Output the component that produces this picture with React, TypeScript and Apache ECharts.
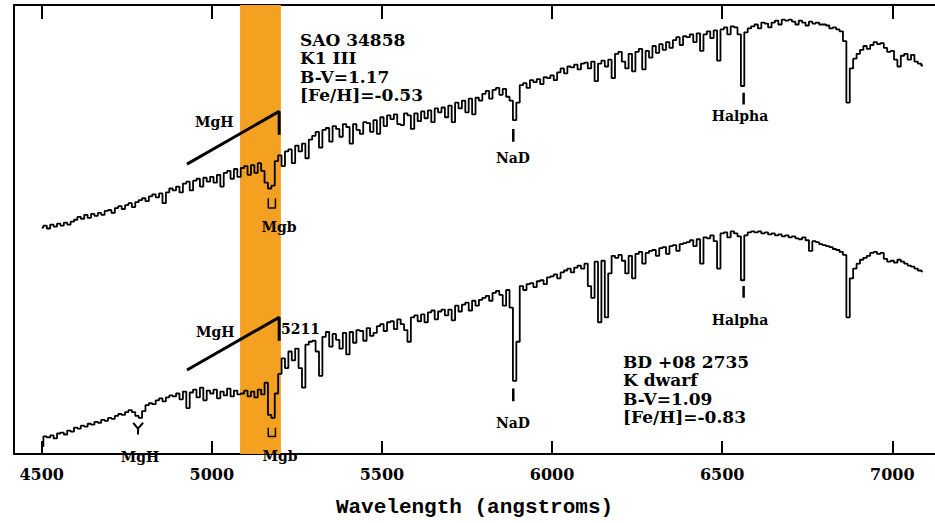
import React, { useEffect, useRef } from 'react';
import * as echarts from 'echarts';

// Wavelength grid of both spectra (angstroms)
const WL_START = 4500;
const WL_STEP = 10;

// SAO 34858 (K1 III giant) – relative flux
const giantFlux = [
  232, 234, 231, 235, 233, 236, 234, 237, 235, 238,
  240, 243, 241, 245, 242, 246, 244, 247, 245, 249,
  250, 247, 252, 254, 251, 255, 257, 253, 258, 260,
  262, 259, 264, 266, 263, 267, 257, 268, 272, 270,
  274, 268, 277, 279, 270, 280, 282, 274, 283, 279,
  284, 278, 286, 274, 288, 290, 282, 292, 284, 293,
  295, 286, 296, 288, 298, 290, 278, 272, 275, 300,
  306, 295, 310, 312, 298, 316, 310, 318, 303, 322,
  326, 330, 314, 332, 334, 320, 336, 333, 325, 338,
  335, 318, 338, 332, 328, 340, 339, 330, 342, 328,
  345, 336, 347, 343, 348, 338, 337, 349, 347, 333,
  349, 341, 351, 344, 352, 340, 354, 350, 355, 345,
  357, 340, 360, 354, 362, 350, 364, 348, 365, 362,
  369, 372, 364, 373, 375, 368, 374, 366, 362, 342,
  360, 378, 380, 375, 383, 381, 384, 379, 386, 385,
  388, 383, 391, 395, 390, 397, 396, 399, 394, 400,
  401, 395, 402, 382, 400, 403, 397, 404, 385, 410,
  412, 402, 395, 410, 392, 412, 415, 394, 413, 406,
  418, 411, 420, 414, 422, 416, 424, 427, 419, 428,
  427, 430, 422, 431, 413, 430, 433, 426, 434, 403,
  435, 437, 430, 438, 437, 430, 377, 432, 436, 438,
  440, 436, 442, 441, 437, 442, 444, 440, 445, 444,
  445, 443, 440, 444, 442, 439, 443, 441, 442, 440,
  440, 439, 436, 437, 435, 433, 423, 360, 395, 405,
  410, 414, 418, 415, 419, 422, 420, 421, 416, 412,
  413, 404, 397, 408, 410, 404, 409, 402, 400, 398,
];

// BD +08 2735 (K dwarf) – relative flux
const dwarfFlux = [
  8, 18, 17, 19, 16, 21, 22, 20, 24, 23,
  27, 26, 29, 28, 31, 30, 33, 32, 35, 34,
  37, 36, 39, 41, 40, 43, 45, 43, 39, 37,
  44, 50, 52, 51, 55, 57, 54, 58, 60, 59,
  62, 56, 64, 47, 63, 66, 58, 68, 55, 65,
  62, 66, 57, 64, 60, 67, 59, 65, 61, 62,
  65, 59, 64, 58, 66, 61, 73, 40, 37, 62,
  82, 98, 88, 105, 96, 108, 88, 68, 112, 115,
  116, 105, 80, 120, 125, 110, 123, 117, 108, 124,
  102, 125, 114, 127, 126, 116, 129, 121, 124, 131,
  133, 126, 135, 136, 128, 138, 133, 127, 115, 140,
  142, 136, 143, 135, 145, 147, 138, 146, 148, 142,
  148, 137, 152, 146, 153, 155, 147, 157, 152, 158,
  160, 162, 157, 165, 167, 163, 152, 168, 150, 75,
  115, 172, 168, 174, 175, 171, 177, 178, 174, 181,
  182, 184, 180, 186, 188, 190, 186, 191, 193, 190,
  195, 172, 160, 197, 135, 198, 140, 185, 203, 201,
  204, 198, 185, 203, 180, 205, 207, 195, 206, 208,
  209, 203, 211, 212, 205, 213, 214, 208, 215, 216,
  217, 219, 213, 220, 195, 222, 221, 224, 218, 190,
  226, 227, 222, 228, 226, 223, 178, 224, 227, 228,
  227, 228, 226, 227, 225, 226, 224, 225, 223, 224,
  222, 223, 221, 220, 222, 219, 208, 218, 217, 215,
  214, 213, 212, 210, 209, 207, 204, 140, 180, 190,
  195, 199, 201, 203, 206, 207, 205, 206, 200, 197,
  198, 196, 199, 197, 195, 193, 192, 190, 188, 187,
];

const tickValues = [4500, 5000, 5500, 6000, 6500, 7000];
const xRange = [4418.6, 7125.5];
const yRange = [0, 460];
const bandRange = [5083, 5203];

// annotation marks, in [wavelength, flux]
const mgHGiant = [[4927, 297], [5198, 351], [5198, 327]];
const mgHDwarf = [[4927, 86], [5198, 140], [5198, 116]];
const naDGiant = [[5886, 333], [5886, 320]];
const naDDwarf = [[5886, 67], [5886, 54]];
const hAlphaGiant = [[6563, 370], [6563, 358]];
const hAlphaDwarf = [[6563, 172], [6563, 160]];
const mgbGiant = [[5166, 262], [5166, 252], [5187, 252], [5187, 262]];
const mgbDwarf = [[5166, 27], [5166, 18], [5187, 18], [5187, 27]];
const mgHDipArms = [[4769, 32], [4783, 26], [4798, 32]];
const mgHDipStem = [[4783, 26], [4783, 20]];

const giantInfo = ['SAO 34858', 'K1 III', 'B-V=1.17', '[Fe/H]=-0.53'];
const dwarfInfo = ['BD +08 2735', 'K dwarf', 'B-V=1.09', '[Fe/H]=-0.83'];

const SERIF = 'DejaVu Serif';

export default function App() {
  const ref = useRef<HTMLDivElement>(null);
  useEffect(() => {
    const chart = echarts.init(ref.current!, undefined, { renderer: 'svg' });
    const toPairs = (arr: number[]) => arr.map((v, i) => [WL_START + i * WL_STEP, v]);
    const mark = (data: number[][], width: number) => ({
      type: 'line',
      data,
      symbol: 'none',
      showSymbol: false,
      silent: true,
      z: 4,
      lineStyle: { color: '#000', width },
    });
    const txt = (text: string, x: number, y: number, size: number, weight: string, align: string) => ({
      type: 'text',
      x,
      y,
      z: 20,
      silent: true,
      style: {
        text,
        fill: '#000',
        fontFamily: SERIF,
        fontSize: size,
        fontWeight: weight,
        align,
        verticalAlign: 'middle',
      },
    });
    const infoTexts: any[] = [];
    giantInfo.forEach((t, i) => infoTexts.push(txt(t, 300, 40 + i * 18.3, 17, 'bold', 'left')));
    dwarfInfo.forEach((t, i) => infoTexts.push(txt(t, 623, 362 + i * 18.3, 17, 'bold', 'left')));

    chart.setOption({
      animation: false,
      backgroundColor: '#fff',
      grid: { left: 14, right: 0, top: 5, bottom: 58, containLabel: false },
      xAxis: [
        {
          type: 'value',
          position: 'bottom',
          min: xRange[0],
          max: xRange[1],
          name: 'Wavelength (angstroms)',
          nameLocation: 'middle',
          nameGap: 43,
          nameTextStyle: { fontFamily: 'Liberation Mono', fontWeight: 'bold', fontSize: 21, color: '#000' },
          axisLine: { show: true, lineStyle: { color: '#000', width: 2 } },
          axisTick: { show: true, inside: true, length: 13, customValues: tickValues, lineStyle: { color: '#000', width: 2 } },
          axisLabel: {
            show: true,
            customValues: tickValues,
            margin: 12,
            formatter: (v: number) => String(v),
            fontFamily: SERIF,
            fontWeight: 'bold',
            fontSize: 16,
            color: '#000',
          },
          splitLine: { show: false },
        },
        {
          type: 'value',
          position: 'top',
          min: xRange[0],
          max: xRange[1],
          axisLine: { show: true, lineStyle: { color: '#000', width: 2 } },
          axisTick: { show: true, inside: true, length: 14, customValues: tickValues, lineStyle: { color: '#000', width: 2 } },
          axisLabel: { show: false },
          splitLine: { show: false },
        },
      ],
      yAxis: {
        type: 'value',
        min: yRange[0],
        max: yRange[1],
        axisLine: { show: true, lineStyle: { color: '#000', width: 2 } },
        axisTick: { show: false },
        axisLabel: { show: false },
        splitLine: { show: false },
      },
      series: [
        {
          type: 'line',
          data: [],
          z: 1,
          silent: true,
          markArea: {
            silent: true,
            itemStyle: { color: '#F4A020' },
            data: [[{ xAxis: bandRange[0] }, { xAxis: bandRange[1] }]],
          },
        },
        {
          name: 'SAO 34858',
          type: 'line',
          data: toPairs(giantFlux),
          step: 'middle',
          symbol: 'none',
          showSymbol: false,
          z: 3,
          lineStyle: { color: '#000', width: 1.8 },
        },
        {
          name: 'BD +08 2735',
          type: 'line',
          data: toPairs(dwarfFlux),
          step: 'middle',
          symbol: 'none',
          showSymbol: false,
          z: 3,
          lineStyle: { color: '#000', width: 1.8 },
        },
        mark(mgHGiant, 3),
        mark(mgHDwarf, 3),
        mark(naDGiant, 2.5),
        mark(naDDwarf, 2.5),
        mark(hAlphaGiant, 2.5),
        mark(hAlphaDwarf, 2.5),
        mark(mgbGiant, 1.5),
        mark(mgbDwarf, 1.5),
        mark(mgHDipArms, 2),
        mark(mgHDipStem, 2),
      ],
      graphic: [
        ...infoTexts,
        txt('MgH', 195, 122, 14, 'bold', 'left'),
        txt('Mgb', 279, 227, 14, 'bold', 'center'),
        txt('NaD', 513, 158, 14, 'bold', 'center'),
        txt('Halpha', 740, 116, 14, 'bold', 'center'),
        txt('MgH', 196, 332, 14, 'bold', 'left'),
        txt('5211', 281, 329, 14, 'bold', 'left'),
        txt('MgH', 140, 457, 14, 'bold', 'center'),
        txt('Mgb', 280, 456, 14, 'bold', 'center'),
        txt('NaD', 513, 423, 14, 'bold', 'center'),
        txt('Halpha', 740, 320, 14, 'bold', 'center'),
      ],
    });
    return () => chart.dispose();
  }, []);
  return (
    <div
      ref={ref}
      style={{ position: 'fixed', left: 0, top: 0, width: 935, height: 523, background: '#fff' }}
    />
  );
}
